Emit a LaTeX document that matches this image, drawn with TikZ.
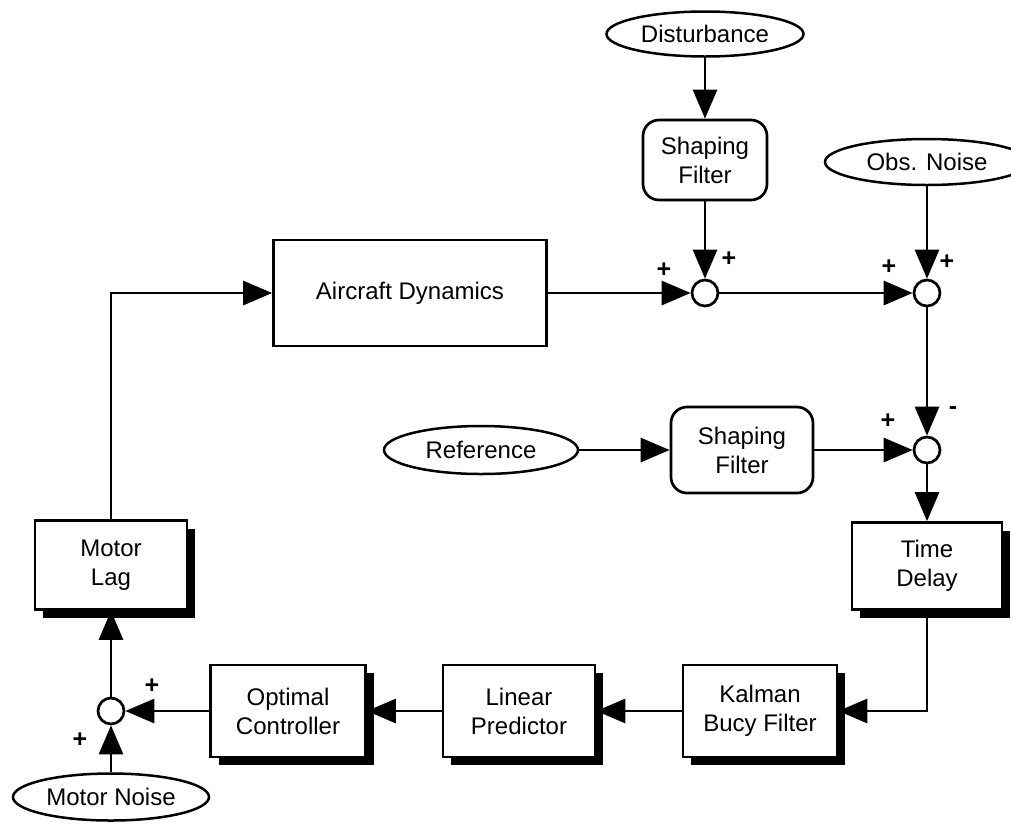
\documentclass[tikz,border=0pt]{standalone}
\usepackage{fontspec}
\setmainfont{Liberation Sans}
\usetikzlibrary{arrows.meta,shapes.geometric,shadows}

\begin{document}
\begin{tikzpicture}[x=1pt,y=-1pt,
  every node/.style={font=\fontsize{24}{29}\selectfont, align=center, inner sep=0pt},
  wire/.style={line width=2.9pt},
  arr/.style={wire, -{Triangle[length=29pt,width=24pt]}},
  plainbox/.style={draw, line width=2.7pt, fill=white, rectangle},
  shadebox/.style={plainbox, drop shadow={shadow xshift=8pt, shadow yshift=-8pt, fill=black, opacity=1}},
  roundbox/.style={plainbox, rounded corners=16pt},
  source/.style={draw, ellipse, line width=2.5pt, fill=white},
  sumpt/.style={draw, circle, line width=2.7pt, fill=white, minimum size=26pt},
  sign/.style={font=\fontsize{25}{25}\bfseries\selectfont}
]
\useasboundingbox (0,0) rectangle (1011,823);
\clip (0,0) rectangle (1011,823);

% upper path: plant, disturbance and observation noise
\node[source, minimum width=197pt, minimum height=45pt] (dist) at (705,34) {Disturbance};
\node[roundbox, minimum width=124pt, minimum height=80pt] (sfa) at (705,160) {Shaping\\Filter};
\node[source, minimum width=204pt, minimum height=46pt] (obs) at (927,162) {Obs. Noise};
\node[plainbox, minimum width=273pt, minimum height=106pt] (air) at (410,293) {Aircraft Dynamics};
\node[sumpt] (sa) at (705,293) {};
\node[sumpt] (sb) at (927,293) {};

% reference comparison
\node[source, minimum width=194pt, minimum height=48pt] (ref) at (481,450) {Reference};
\node[roundbox, minimum width=142pt, minimum height=86pt] (sfb) at (742,450) {Shaping\\Filter};
\node[sumpt] (sc) at (927,450) {};

% pilot model chain
\node[shadebox, minimum width=150pt, minimum height=87pt] (td) at (927,566) {Time\\Delay};
\node[shadebox, minimum width=154pt, minimum height=92pt] (kal) at (760,711) {Kalman\\Bucy Filter};
\node[shadebox, minimum width=152pt, minimum height=92pt] (lin) at (519,711) {Linear\\Predictor};
\node[shadebox, minimum width=155pt, minimum height=92pt] (opt) at (288,711) {Optimal\\Controller};
\node[sumpt] (sd) at (111,711) {};
\node[source, minimum width=196pt, minimum height=47pt] (mn) at (111,797) {Motor Noise};
\node[shadebox, minimum width=152pt, minimum height=89pt] (ml) at (111,565) {Motor\\Lag};

% connectors
\draw[arr] (dist) -- (sfa);
\draw[arr] (sfa) -- (sa);
\draw[arr] (air) -- (sa);
\draw[arr] (sa) -- (sb);
\draw[arr] (obs) -- (sb);
\draw[arr] (sb) -- (sc);
\draw[arr] (ref) -- (sfb);
\draw[arr] (sfb) -- (sc);
\draw[arr] (sc) -- (td);
\draw[arr] (td.south) |- (kal.east);
\draw[arr] (kal) -- (lin);
\draw[arr] (lin) -- (opt);
\draw[arr] (opt) -- (sd);
\draw[arr] (mn) -- (sd);
\draw[arr] (sd) -- (ml);
\draw[arr] (ml.north) |- (air.west);

% summing junction signs
\node[sign] (pa1) at (664,270) {+};
\node[sign] (pa2) at (729,259) {+};
\node[sign] (pb1) at (889,267) {+};
\node[sign] (pb2) at (947,262) {+};
\node[sign] (pc1) at (888,421) {+};
\node[sign] (pc2) at (953,411) {-};
\node[sign] (pd1) at (152,686) {+};
\node[sign] (pd2) at (80,740) {+};
\end{tikzpicture}
\end{document}
